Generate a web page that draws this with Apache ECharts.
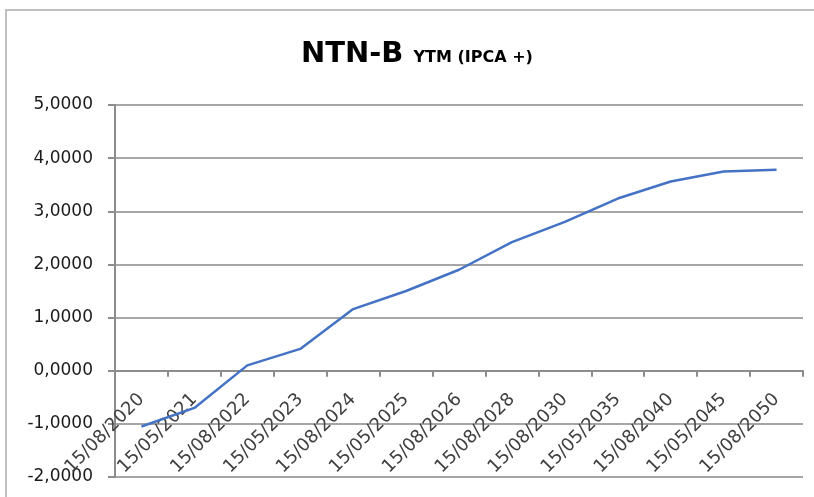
<!DOCTYPE html>
<html>
<head>
<meta charset="utf-8">
<script src="https://cdn.jsdelivr.net/npm/echarts@6/dist/echarts.min.js"></script>
<style>
    html, body { margin: 0; padding: 0; background: #fff; }
    #chart { width: 814px; height: 497px; }
</style>
</head>
<body>
<div id="chart"></div>
<script>
// vencimentos (eixo x)
const maturities = ['15/08/2020', '15/05/2021', '15/08/2022', '15/05/2023', '15/08/2024', '15/05/2025',
    '15/08/2026', '15/08/2028', '15/08/2030', '15/05/2035', '15/08/2040', '15/05/2045', '15/08/2050']
// taxa YTM (IPCA +)
const ytmValues = [-1.05, -0.70, 0.10, 0.41, 1.16, 1.50, 1.90, 2.42, 2.80, 3.24, 3.56, 3.75, 3.78]
// eixo y
const yMin = -2
const yMax = 5
const yStep = 1

const gridTop = 105
const gridBottom = 20
const chartHeight = 497
// o eixo x cruza no zero (rótulos junto com a linha)
const plotHeight = chartHeight - gridTop - gridBottom
const zeroOffset = -plotHeight * (0 - yMin) / (yMax - yMin)

const chart = echarts.init(document.getElementById('chart'))

const option = {
    animation: false,
    backgroundColor: '#fff',
    graphic: [
        {
            type: 'rect',
            shape: { x: 6, y: 10, width: 830, height: 520 },
            style: { fill: 'none', stroke: '#bfbfbf', lineWidth: 2 }
        }
    ],
    title: {
        text: '{big|NTN-B}{small|YTM (IPCA +)}',
        left: 301,
        top: 33,
        padding: 0,
        textStyle: {
            fontSize: 14,
            rich: {
                big: {
                    fontFamily: 'DejaVu Sans',
                    fontWeight: 'bold',
                    fontSize: 29,
                    color: '#000',
                    lineHeight: 36,
                    verticalAlign: 'bottom'
                },
                small: {
                    fontFamily: 'DejaVu Sans',
                    fontWeight: 'bold',
                    fontSize: 16,
                    color: '#000',
                    lineHeight: 36,
                    verticalAlign: 'bottom',
                    padding: [0, 0, 3, 10]
                }
            }
        }
    },
    grid: {
        left: 115,
        right: 11,
        top: gridTop,
        bottom: gridBottom,
        containLabel: false,
        outerBoundsMode: 'none'
    },
    xAxis: {
        type: 'category',
        data: maturities,
        boundaryGap: true,
        offset: zeroOffset,
        axisLine: { onZero: false, lineStyle: { color: '#8c8c8c', width: 2 } },
        axisTick: { show: true, length: 6, lineStyle: { color: '#8c8c8c', width: 2 } },
        axisLabel: {
            interval: 0,
            rotate: 45,
            margin: 26,
            fontFamily: 'DejaVu Sans',
            fontSize: 18,
            color: '#404040'
        }
    },
    yAxis: {
        type: 'value',
        min: yMin,
        max: yMax,
        interval: yStep,
        axisLine: { show: true, lineStyle: { color: '#8c8c8c', width: 2 } },
        axisTick: { show: true, length: 7, lineStyle: { color: '#8c8c8c', width: 2 } },
        splitLine: { lineStyle: { color: '#a6a6a6', width: 2 } },
        axisLabel: {
            margin: 22,
            fontFamily: 'DejaVu Sans',
            fontSize: 17,
            color: '#1a1a1a',
            formatter: v => v.toFixed(4).replace('.', ',')
        }
    },
    series: [
        {
            name: 'YTM',
            type: 'line',
            data: ytmValues,
            symbol: 'none',
            lineStyle: { color: '#4472c4', width: 2.5 },
            itemStyle: { color: '#4472c4' }
        }
    ]
}

chart.setOption(option)
</script>
</body>
</html>
